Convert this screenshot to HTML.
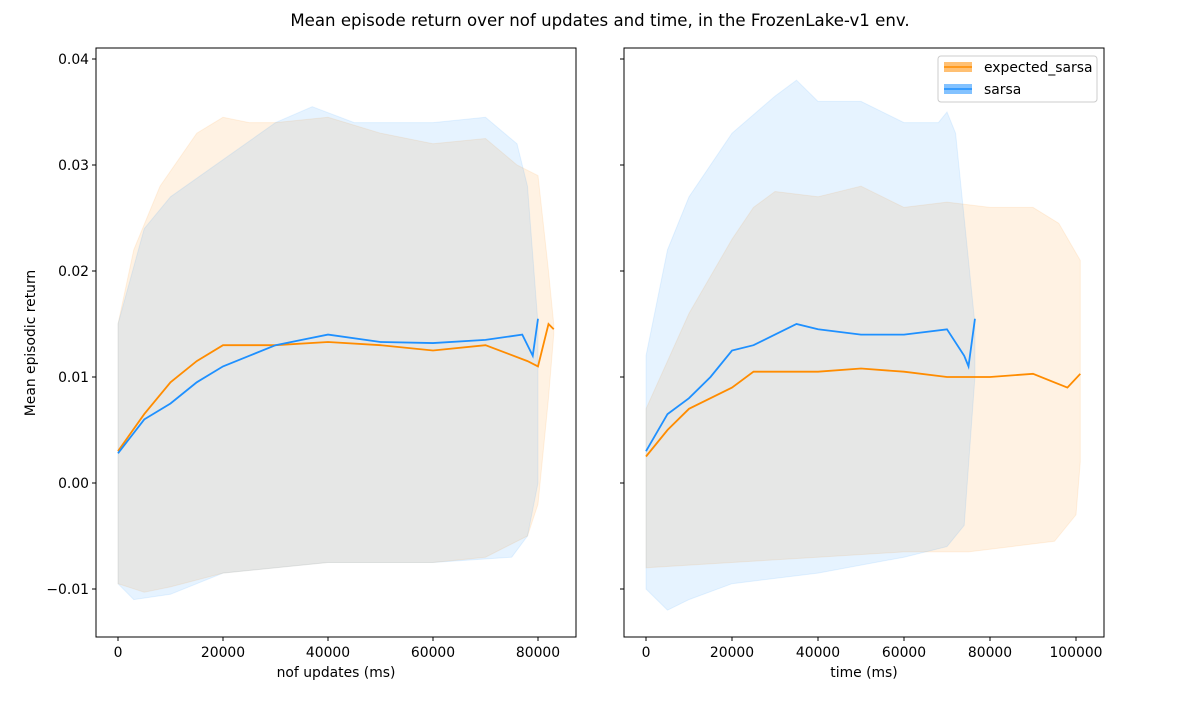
<!DOCTYPE html>
<html><head><meta charset="utf-8"><style>
body{margin:0;background:#fff;font-family:"Liberation Sans","DejaVu Sans",sans-serif}
svg text{font-family:"DejaVu Sans","Liberation Sans",sans-serif;font-size:13.9px;fill:#000}
</style></head><body>
<svg id="c" width="1200" height="700"></svg>
<script>
// Left panel (nof updates)
const L_es_x=[0,5000,10000,15000,20000,25000,30000,40000,50000,60000,70000,78000,80000,82000,83000];
const L_es_m=[0.003,0.0065,0.0095,0.0115,0.013,0.013,0.013,0.0133,0.013,0.0125,0.013,0.0115,0.011,0.015,0.0145];
const L_es_ux=[0,3000,8000,15000,20000,25000,30000,40000,50000,60000,70000,76000,80000,82000,83000];
const L_es_u=[0.015,0.022,0.028,0.033,0.0345,0.034,0.034,0.0345,0.033,0.032,0.0325,0.03,0.029,0.02,0.015];
const L_es_lx=[0,5000,10000,20000,40000,60000,70000,78000,80000,82000,83000];
const L_es_l=[-0.0095,-0.0103,-0.0098,-0.0085,-0.0075,-0.0075,-0.007,-0.005,-0.002,0.008,0.014];
const L_sa_x=[0,5000,10000,15000,20000,25000,30000,35000,40000,50000,60000,70000,77000,79000,80000];
const L_sa_m=[0.0028,0.006,0.0075,0.0095,0.011,0.012,0.013,0.0135,0.014,0.0133,0.0132,0.0135,0.014,0.012,0.0155];
const L_sa_ux=[0,5000,10000,20000,30000,37000,45000,60000,70000,76000,78000,80000];
const L_sa_u=[0.015,0.024,0.027,0.0305,0.034,0.0355,0.034,0.034,0.0345,0.032,0.028,0.015];
const L_sa_lx=[0,3000,10000,20000,40000,60000,75000,78000,80000];
const L_sa_l=[-0.0095,-0.011,-0.0105,-0.0085,-0.0075,-0.0075,-0.007,-0.005,0.0];
// Right panel (time)
const R_es_x=[0,5000,10000,20000,25000,30000,40000,50000,60000,70000,80000,90000,98000,101000];
const R_es_m=[0.0025,0.005,0.007,0.009,0.0105,0.0105,0.0105,0.0108,0.0105,0.01,0.01,0.0103,0.009,0.0103];
const R_es_ux=[0,10000,20000,25000,30000,40000,50000,60000,70000,80000,90000,96000,101000];
const R_es_u=[0.007,0.016,0.023,0.026,0.0275,0.027,0.028,0.026,0.0265,0.026,0.026,0.0245,0.021];
const R_es_lx=[0,20000,40000,60000,75000,85000,95000,100000,101000];
const R_es_l=[-0.008,-0.0075,-0.007,-0.0065,-0.0065,-0.006,-0.0055,-0.003,0.002];
const R_sa_x=[0,5000,10000,15000,20000,25000,30000,35000,40000,50000,60000,70000,74000,75000,76500];
const R_sa_m=[0.003,0.0065,0.008,0.01,0.0125,0.013,0.014,0.015,0.0145,0.014,0.014,0.0145,0.012,0.011,0.0155];
const R_sa_ux=[0,5000,10000,20000,30000,35000,40000,50000,60000,68000,70000,72000,74000,76500];
const R_sa_u=[0.012,0.022,0.027,0.033,0.0365,0.038,0.036,0.036,0.034,0.034,0.035,0.033,0.025,0.015];
const R_sa_lx=[0,5000,10000,20000,40000,60000,70000,74000,76500];
const R_sa_l=[-0.01,-0.012,-0.011,-0.0095,-0.0085,-0.007,-0.006,-0.004,0.01];
const yTicks=[-0.01,0,0.01,0.02,0.03,0.04];
const yTickLabels=["\u22120.01","0.00","0.01","0.02","0.03","0.04"];
const lTicks=[0,20000,40000,60000,80000];
const rTicks=[0,20000,40000,60000,80000,100000];

const svg=document.getElementById('c');const NS='http://www.w3.org/2000/svg';
function mk(t,a,p){const e=document.createElementNS(NS,t);for(const k in a)e.setAttribute(k,a[k]);(p||svg).appendChild(e);return e;}
const Y=v=>483-v*10600;
function panel(x0,x1,dmin,dmax,xt,label,name,series,showY){
  const X=v=>x0+(v-dmin)/(dmax-dmin)*(x1-x0);
  const g=mk('g',{});
  
  
  series.forEach(s=>{
    let pts=s.ux.map((x,i)=>X(x)+','+Y(s.u[i]));
    for(let i=s.lx.length-1;i>=0;i--)pts.push(X(s.lx[i])+','+Y(s.l[i]));
    const band=mk('polygon',{points:pts.join(' '),fill:s.c,'fill-opacity':0.11,stroke:s.c,'stroke-opacity':0.1},g);
    
    
  });
  series.forEach(s=>{
    const ln=mk('polyline',{points:s.x.map((x,i)=>X(x)+','+Y(s.m[i])).join(' '),fill:'none',stroke:s.c,'stroke-width':1.8},g);
    
    
  });
  const fr=mk('rect',{x:x0,y:48,width:x1-x0,height:589,fill:'none',stroke:'#000','stroke-width':1},g);
  
  
  xt.forEach(t=>{const x=X(t);mk('line',{x1:x,x2:x,y1:637,y2:641,stroke:'#000'},g);
    const tx=mk('text',{x:x,y:657,'text-anchor':'middle'},g);tx.textContent=t;
    
    });
  yTicks.forEach((t,i)=>{const y=Y(t);mk('line',{x1:x0-4,x2:x0,y1:y,y2:y,stroke:'#000'},g);
    if(showY){const tx=mk('text',{x:x0-7,y:y+5,'text-anchor':'end'},g);tx.textContent=yTickLabels[i];
    
    }});
  const xl=mk('text',{x:(x0+x1)/2,y:677,'text-anchor':'middle'},g);xl.textContent=label;
  
  
}
const OR='#ff8c00',BL='#1e90ff';
panel(96,576,-4190,87238,lTicks,'nof updates (ms)','left-panel',[
 {n:'expected-sarsa',c:OR,x:L_es_x,m:L_es_m,ux:L_es_ux,u:L_es_u,lx:L_es_lx,l:L_es_l},
 {n:'sarsa',c:BL,x:L_sa_x,m:L_sa_m,ux:L_sa_ux,u:L_sa_u,lx:L_sa_lx,l:L_sa_l}],true);
panel(624,1104,-5116,106512,rTicks,'time (ms)','right-panel',[
 {n:'expected-sarsa',c:OR,x:R_es_x,m:R_es_m,ux:R_es_ux,u:R_es_u,lx:R_es_lx,l:R_es_l},
 {n:'sarsa',c:BL,x:R_sa_x,m:R_sa_m,ux:R_sa_ux,u:R_sa_u,lx:R_sa_lx,l:R_sa_l}],false);
const yl=mk('text',{x:35,y:343,'text-anchor':'middle',transform:'rotate(-90 35 343)'});yl.textContent='Mean episodic return';


const ti=mk('text',{x:600,y:26,'text-anchor':'middle'});ti.textContent='Mean episode return over nof updates and time, in the FrozenLake-v1 env.';
ti.style.fontSize='16.6px';


const lg=mk('g',{});


mk('rect',{x:938,y:56,width:159,height:46,rx:3,fill:'#fff',stroke:'#ccc'},lg);
[['expected_sarsa',OR,67],['sarsa',BL,89]].forEach(([t,c,y])=>{
  mk('rect',{x:944,y:y-5,width:28,height:10,fill:c,'fill-opacity':0.55},lg);
  mk('line',{x1:944,x2:972,y1:y,y2:y,stroke:c,'stroke-width':1.5},lg);
  const tx=mk('text',{x:984,y:y+5},lg);tx.textContent=t;
  
  
});
</script></body></html>
